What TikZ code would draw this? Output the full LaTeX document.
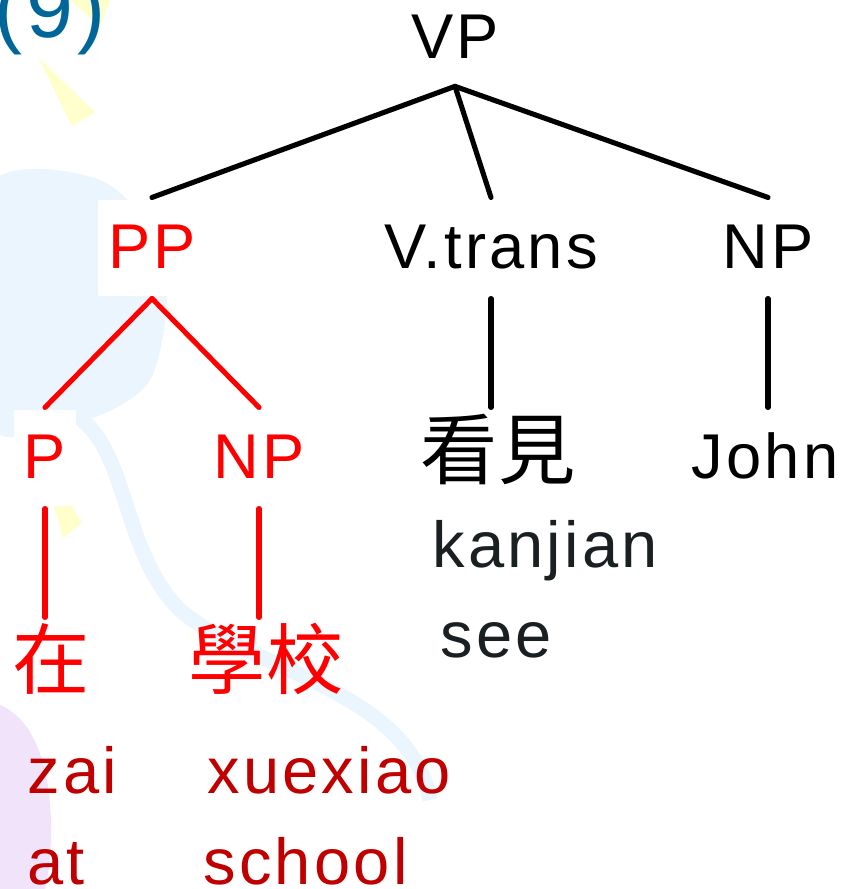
\documentclass[tikz,border=0pt]{standalone}
\usepackage{fontspec}
\setmainfont{Liberation Sans}[LetterSpace=5]
\newfontfamily\cjk{Noto Sans CJK TC}
\usetikzlibrary{trees,positioning}
\definecolor{treered}{HTML}{FF0000}
\definecolor{glossred}{HTML}{C00000}
\definecolor{glossgray}{HTML}{1A1F22}
\definecolor{exblue}{HTML}{006699}
\definecolor{swirlblue}{HTML}{EAF5FD}
\definecolor{swirlpurple}{HTML}{F1E3FA}
\definecolor{paleyellow}{HTML}{FFFFCC}
\tikzset{
  every node/.style={
    font=\fontsize{36}{40}\selectfont,
    inner sep=0pt
  },
  cat/.style={
    text height=1.06cm,
    text depth=0.26cm,
    inner xsep=0.2cm,
    inner ysep=0.3cm
  },
  word/.style={
    cat,
    font=\cjk\fontsize{44}{48}\selectfont
  },
  gloss/.style={
    anchor=base west,
    font=\fontsize{37}{40}\selectfont
  },
  straight down/.style={
    edge from parent path={
      (\tikzparentnode.south) -- (\tikzparentnode.south |- \tikzchildnode.north)
    }
  },
  syntax tree/.style={
    edge from parent path={
      (\tikzparentnode.south) -- (\tikzchildnode.north)
    },
    line width=2.9pt,
    line cap=round,
    level distance=4.2cm,
    level 1/.style={sibling distance=6.18cm},
    level 2/.style={sibling distance=4.28cm}
  }
}

\begin{document}
\begin{tikzpicture}
  \useasboundingbox (0,0) rectangle (17,-17.78);

  % faint slide background
  \fill[swirlblue] plot[smooth cycle] coordinates
    {(-0.3,-3.8) (2,-3.6) (3.3,-5.2) (3.0,-7.6) (1.4,-8.5) (-0.3,-8.4)};
  \draw[swirlblue, line width=0.3cm] (1.5,-8.3)
    .. controls (2.6,-9) and (2.4,-11) .. (3.6,-12.2)
    .. controls (5,-13.4) and (8.2,-13.8) .. (8.6,-16);
  \fill[swirlpurple] (0,-14.1) .. controls (1.2,-14.6) and (1.1,-17) .. (0.9,-17.78)
    -- (0,-17.78) -- cycle;
  \fill[paleyellow] (0.76,-1.14) -- (1.9,-2.24) -- (1.44,-2.52) -- cycle;
  \fill[paleyellow] (1.4,0) -- (2.2,0) -- (2.0,-0.54) -- cycle;
  \fill[paleyellow] (1.04,-9.96) -- (1.34,-9.96) -- (1.64,-10.46) -- (1.26,-10.76) -- cycle;

  \node[anchor=base west, text=exblue, font=\fontsize{48}{52}\selectfont]
    (exnum) at (-0.12,-0.76) {(9)};

  \node[cat] (vp) at (9.1,-0.76) {VP}
    [syntax tree]
    child[xshift=0.12cm] { node[cat, text=treered, fill=white] (pp) {PP}
      child[treered] { node[cat, fill=white] (p) {P}
        child[straight down, xshift=0.12cm] { node[word] (zai) {在} }
      }
      child[treered] { node[cat] (npobj) {NP}
        child[straight down, xshift=0.14cm] { node[word] (xuexiao) {學校} }
      }
    }
    child[xshift=0.72cm] { node[cat] (vtrans) {V.trans}
      child[straight down, xshift=0.14cm] { node[word] (kanjian) {看見} }
    }
    child[xshift=0.08cm] { node[cat] (np) {NP}
      child[straight down, xshift=-0.06cm] { node[cat] (john) {John} }
    };

  % romanisation and glosses
  \node[gloss, text=glossgray] (kanjianrom) at (8.64,-11.34) {kanjian};
  \node[gloss, text=glossgray] (kanjiangl) at (8.8,-13.14) {see};
  \node[gloss, text=glossred] (zairom) at (0.54,-15.86) {zai};
  \node[gloss, text=glossred] (zaigl) at (0.54,-17.68) {at};
  \node[gloss, text=glossred] (xuexiaorom) at (4.14,-15.86) {xuexiao};
  \node[gloss, text=glossred] (xuexiaogl) at (4.06,-17.68) {school};
\end{tikzpicture}
\end{document}
